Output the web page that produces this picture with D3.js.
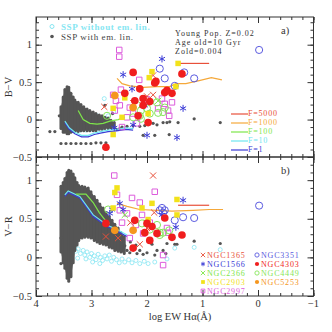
<!DOCTYPE html>
<html>
<head>
<meta charset="utf-8">
<script src="https://cdn.jsdelivr.net/npm/d3@7"></script>
<style>
  body { margin: 0; background: #fff; }
  text { font-family: "Liberation Serif", "DejaVu Serif", serif; }
</style>
</head>
<body>
<div id="graf"></div>
<script>
// Podaci: log EW(Halpha) i boja (B-V gore, V-R dolje)
const xTicks = [4, 3, 2, 1, 0, -1];
const yTicks = [-0.5, 0, 0.5, 1];

// SSP s emisijskim linijama - gusti oblak kao stupci [logEW, donja, gornja]
const sspStupciBV = [[3.55,-0.12,0.17],[3.51,-0.17,0.30],[3.48,-0.17,0.40],[3.44,-0.19,0.44],[3.41,-0.19,0.43],
  [3.37,-0.17,0.35],[3.33,-0.16,0.30],[3.30,-0.16,0.26],[3.24,-0.16,0.23],[3.19,-0.15,0.20],[3.14,-0.15,0.17],
  [3.08,-0.15,0.14],[3.03,-0.15,0.12],[2.97,-0.15,0.10],[2.92,-0.15,0.08],[2.86,-0.13,0.06],[2.81,-0.13,0.05],
  [2.76,-0.12,0.03],[2.70,-0.12,0.02],[2.65,-0.11,-0.01],[2.59,-0.11,-0.04]];
const sspStupciVR = [[3.55,0.07,0.92],[3.51,-0.07,0.97],[3.48,-0.14,1.02],[3.44,-0.27,1.10],[3.41,-0.31,1.13],
  [3.37,-0.25,1.12],[3.33,-0.07,1.08],[3.30,0.09,1.03],[3.26,0.16,0.97],[3.23,0.22,0.93],[3.17,0.25,0.92],
  [3.12,0.26,0.91],[3.06,0.26,0.90],[3.01,0.25,0.85],[2.95,0.22,0.79],[2.90,0.20,0.74],[2.85,0.18,0.69],
  [2.79,0.17,0.64],[2.74,0.16,0.58],[2.68,0.13,0.53],[2.63,0.12,0.48],[2.58,0.09,0.43],[2.52,0.08,0.38],
  [2.47,0.07,0.32],[2.41,0.05,0.27]];

// SSP s emisijskim linijama - rijetke tocke
const sspTockeBV = [[3.55,-0.32],[3.46,-0.32],[3.37,-0.32],[3.28,-0.32],[3.19,-0.32],[3.10,-0.32],[3.01,-0.32],
  [2.92,-0.31],[2.83,-0.31],[2.74,-0.31],[3.75,-0.16],[3.66,-0.16],[2.36,-0.09],[2.25,-0.08],[2.13,-0.09],
  [2.04,-0.08],[1.95,-0.05],[1.89,-0.05],[1.82,-0.07],[1.71,-0.04],[1.64,-0.04],[1.59,-0.03],[1.44,-0.04],
  [1.15,0.01],[0.68,-0.04],[2.07,-0.21],[1.86,-0.21],[1.60,-0.20],[2.76,0.19],[2.72,-0.05],[2.49,-0.12],
  [2.55,-0.13],[2.45,-0.10],[3.58,0.05],[2.62,0.08]];
const sspTockeVR = [[2.36,0.09],[2.31,0.06],[2.25,0.12],[2.18,0.05],[2.13,0.09],[2.07,0.04],[2.00,0.06],
  [1.91,0.17],[1.86,0.03],[1.82,0.09],[1.71,0.09],[1.66,0.05],[1.64,0.18],[1.50,0.17],[1.46,0.17],
  [1.15,0.21],[0.68,0.18],[3.55,0.25],[3.55,-0.08],[2.40,0.15],[2.30,0.20],[2.20,0.16]];

// SSP bez emisijskih linija
const sspBezBV = [[3.43,0.22],[3.43,0.10],[3.42,-0.02],[3.48,-0.10],[3.38,-0.12],[3.30,-0.13],[3.20,-0.14],
  [3.10,-0.14],[3.00,-0.13],[2.90,-0.12],[2.80,-0.11],[2.70,-0.10],[2.62,-0.09],[2.90,0.05],[2.77,0.28],
  [2.70,0.05],[2.60,0.10],[3.52,0.02]];
const sspBezVR = [[3.53,0.20],[3.50,0.16],[3.46,0.19],[3.42,0.14],[3.39,0.18],[3.35,0.12],[3.30,0.15],
  [3.28,0.08],[3.24,0.11],[3.20,0.05],[3.15,0.09],[3.12,0.03],[3.08,0.07],[3.03,0.00],[3.00,0.05],[2.95,0.02],
  [2.92,-0.03],[2.88,0.04],[2.84,0.00],[2.80,-0.04],[2.76,0.02],[2.72,-0.02],[2.68,0.03],[2.64,-0.05],
  [2.60,0.00],[2.55,-0.03],[2.50,-0.07],[2.45,-0.02],[2.40,-0.06],[2.33,-0.03],[2.27,-0.07],[2.20,-0.04],
  [2.13,-0.08],[2.05,-0.05],[1.98,-0.08],[1.86,-0.06],[1.64,-0.02],[1.50,0.12],[1.15,0.13],[0.68,0.10],
  [3.45,0.08],[3.35,0.04],[3.25,-0.01],[3.10,-0.02],[2.98,-0.06],[2.85,-0.08]];

// Modeli za razlicite F
const fOznake = ["F=5000", "F=1000", "F=100", "F=10", "F=1"];
const f5000BV = [[1.44,0.75],[0.88,0.75]];
const f1000BV = [[2.54,0.55],[2.45,0.48],[2.31,0.45],[2.07,0.43],[1.82,0.44],[1.59,0.44],[1.48,0.48],
  [1.30,0.48],[1.06,0.52],[0.84,0.56],[0.65,0.53]];
const f100BV = [[3.24,0.12],[3.15,0.00],[3.03,-0.05],[2.90,-0.06],[2.79,-0.05],[2.67,-0.02],[2.52,0.00],[2.40,0.03]];
const f10BV = [[3.48,-0.02],[3.40,-0.11],[3.30,-0.17],[3.18,-0.21],[3.06,-0.21],[2.95,-0.18],[2.84,-0.16],
  [2.70,-0.14],[2.55,-0.13],[2.38,-0.11],[2.25,-0.12]];
const f1BV = [[3.48,-0.04],[3.40,-0.13],[3.30,-0.19],[3.18,-0.23],[3.06,-0.23],[2.95,-0.20],[2.84,-0.18],
  [2.70,-0.16],[2.55,-0.15],[2.38,-0.13],[2.25,-0.14]];
const f5000VR = [[1.44,0.675],[0.88,0.675]];
const f1000VR = [[2.54,0.70],[2.36,0.66],[2.13,0.62],[1.82,0.61],[1.55,0.60],[1.17,0.61],[0.88,0.62],[0.63,0.62]];
const f100VR = [[3.28,0.82],[3.10,0.82],[2.97,0.71],[2.86,0.58],[2.74,0.47],[2.67,0.44]];
const f10VR = [[3.48,0.81],[3.42,0.86],[3.21,0.79],[2.97,0.55],[2.72,0.42],[2.54,0.36],[2.36,0.29]];
const f1VR = [[3.48,0.79],[3.42,0.84],[3.21,0.77],[2.97,0.53],[2.72,0.40],[2.54,0.34],[2.36,0.27]];

// Galaksije
const galaksije = ["NGC1365", "NGC1566", "NGC2366", "NGC2903", "NGC2997", "NGC3351", "NGC4303", "NGC4449", "NGC5253"];
const ngc1365BV = [[1.89,0.33],[2.00,0.31],[1.89,0.59],[2.25,0.22],[2.77,0.17]];
const ngc1566BV = [[1.73,0.81],[2.43,0.60],[2.27,0.41],[2.04,0.19],[2.25,-0.07],[1.35,0.15],[1.46,-0.24],[2.59,-0.11],[2.00,-0.21]];
const ngc2366BV = [[1.80,0.25],[2.10,0.20]];
const ngc2903BV = [[1.91,0.64],[1.96,0.56],[2.40,0.29],[1.98,0.08],[2.45,0.03],[1.44,0.75],[1.48,0.44],[2.61,-0.20],[2.61,0.15]];
const ngc2997BV = [[2.50,0.93],[2.50,0.84],[2.14,0.53],[2.47,0.40],[2.61,0.33],[2.56,0.25],[2.49,0.19],[2.58,0.12],
  [2.31,0.16],[2.25,0.08],[2.18,-0.05],[2.36,0.03],[1.73,0.28],[1.68,0.21],[1.80,0.15],[1.55,0.23],[1.62,0.12],
  [1.60,0.05],[2.45,-0.10],[2.00,0.27]];
const ngc3351BV = [[1.77,0.68],[1.68,0.55],[1.33,0.63],[1.15,0.55],[1.50,0.45],[-0.02,0.93]];
const ngc4303BV = [[2.25,0.63],[1.84,0.51],[2.13,0.41],[2.40,0.35],[2.22,0.25],[2.07,0.28],[1.95,0.24],[2.07,0.19],
  [2.16,0.05],[1.98,-0.04],[1.68,0.36],[1.55,0.35],[1.37,0.61],[1.86,0.49],[1.64,0.39],[2.74,-0.37]];
const ngc4449BV = [[2.11,0.12],[1.95,0.08],[1.80,0.09],[2.13,0.05],[2.25,0.03],[2.72,0.05],[2.11,0.01],[2.00,0.15],
  [1.82,0.23],[1.68,0.16],[1.71,0.10]];
const ngc5253BV = [[2.58,0.32],[2.25,0.16]];

const ngc1365VR = [[1.89,1.06],[1.87,0.58],[2.74,0.27],[2.52,0.25],[2.13,0.17],[2.30,0.45],[2.00,0.38]];
const ngc1566VR = [[1.35,0.74],[1.73,0.55],[1.48,0.39],[2.63,0.62],[2.43,0.62],[2.67,0.57],[2.49,0.70]];
const ngc2366VR = [[2.40,0.55],[2.00,0.45]];
const ngc2903VR = [[2.54,0.90],[2.58,0.84],[1.91,0.70],[2.61,0.64],[2.09,0.64],[1.46,0.75],[1.46,0.55],[1.98,0.49]];
const ngc2997VR = [[2.59,1.06],[1.86,0.85],[2.54,0.81],[2.27,0.77],[2.13,0.71],[2.49,0.61],[2.36,0.57],[2.09,0.55],
  [1.95,0.45],[1.64,0.38],[1.62,0.32],[2.07,0.31],[2.31,0.25],[1.71,0.03],[1.71,-0.10],[2.20,0.42],[2.45,0.45]];
const ngc3351VR = [[1.77,0.61],[1.71,0.58],[1.73,0.64],[1.68,0.61],[1.35,0.52],[1.50,0.48],[1.15,0.51],[-0.02,0.67]];
const ngc4303VR = [[2.74,0.44],[2.22,0.48],[2.00,0.44],[2.04,0.32],[1.95,0.22],[2.25,0.12],[1.68,0.51],[1.55,0.26],
  [1.37,0.29],[1.82,0.31],[1.91,0.40]];
const ngc4449VR = [[2.09,0.44],[1.82,0.42],[1.77,0.32],[1.71,0.32],[1.77,0.29],[2.70,0.62],[1.60,0.35],[1.95,0.36]];
const ngc5253VR = [[2.58,0.35],[2.25,0.35]];

const dimenzije = {
    sirina: 332,
    visina: 332,
    margine: { top: 17, right: 18.5, bottom: 36, left: 36 },
    sredina: 157,
};

const boje = {
    siva: "#555", cijan: "#86e6f2",
    f: ["#e8503a", "#f5a83a", "#7ee64a", "#6ee6f0", "#3a3ad6"],
    gal: ["#e8503a", "#3a3ad6", "#7ee64a", "#f2e21a", "#dc5cdc", "#5a5ae0", "#f01e1e", "#86e65a", "#f5961e"],
};
// tip simbola, ispunjen?, velicina
const simboli = [
    [d3.symbolTimes, false, 26], [d3.symbolAsterisk, false, 34], [d3.symbolTimes, false, 26],
    [d3.symbolSquare, true, 30], [d3.symbolSquare, false, 30], [d3.symbolCircle, false, 40],
    [d3.symbolCircle, true, 46], [d3.symbolCircle, false, 40], [d3.symbolCircle, true, 46],
];
const redoslijed = [4, 7, 5, 1, 0, 2, 3, 6, 8];
const legSlova = 8;

const svg = d3.select("#graf").append("svg")
    .attr("width", dimenzije.sirina)
    .attr("height", dimenzije.visina);

const xScale = d3.scaleLinear()
    .domain([4, -1])
    .range([dimenzije.margine.left, dimenzije.sirina - dimenzije.margine.right]);

function crtajPanel(cfg) {
    const y = d3.scaleLinear().domain(cfg.domena).range([cfg.dno, cfg.vrh]);
    const g = svg.append("g");

    // SSP bez linija
    g.selectAll(".bez").data(cfg.bez).join("circle")
        .attr("cx", d => xScale(d[0])).attr("cy", d => y(d[1])).attr("r", 2)
        .attr("fill", "none").attr("stroke", boje.cijan).attr("stroke-width", 0.8);

    // SSP s linijama - oblak
    g.append("path").datum(cfg.stupci)
        .attr("d", d3.area().x(d => xScale(d[0])).y0(d => y(d[1])).y1(d => y(d[2])))
        .attr("fill", boje.siva);
    g.selectAll(".stupac").data(cfg.stupci).join("line")
        .attr("x1", d => xScale(d[0])).attr("x2", d => xScale(d[0]))
        .attr("y1", d => y(d[1])).attr("y2", d => y(d[2]))
        .attr("stroke", boje.siva).attr("stroke-width", 3).attr("stroke-linecap", "round");
    g.selectAll(".tocka").data(cfg.tocke).join("circle")
        .attr("cx", d => xScale(d[0])).attr("cy", d => y(d[1])).attr("r", 1.6)
        .attr("fill", boje.siva);

    // Modeli
    const linija = d3.line().x(d => xScale(d[0])).y(d => y(d[1]));
    cfg.modeli.slice().reverse().forEach((m, i) => {
        g.append("path").datum(m)
            .attr("d", linija)
            .attr("fill", "none").attr("stroke", boje.f[4 - i]).attr("stroke-width", 1.2);
    });

    // Galaksije
    redoslijed.forEach(k => {
        const [tip, pun, vel] = simboli[k];
        g.selectAll(".g" + k).data(cfg.gal[k]).join("path")
            .attr("transform", d => `translate(${xScale(d[0])},${y(d[1])})`)
            .attr("d", d3.symbol().type(tip).size(vel))
            .attr("fill", pun ? boje.gal[k] : "none")
            .attr("stroke", boje.gal[k])
            .attr("stroke-width", pun ? 0 : 1);
    });

    // Okvir i osi
    const x0 = dimenzije.margine.left, x1 = dimenzije.sirina - dimenzije.margine.right;
    const osi = [
        [d3.axisBottom(xScale), `translate(0,${cfg.dno})`, xTicks, d3.range(4, -1.01, -0.2)],
        [d3.axisTop(xScale), `translate(0,${cfg.vrh})`, xTicks, d3.range(4, -1.01, -0.2)],
        [d3.axisLeft(y), `translate(${x0},0)`, yTicks, d3.range(-0.5, cfg.domena[1], 0.1)],
        [d3.axisRight(y), `translate(${x1},0)`, yTicks, d3.range(-0.5, cfg.domena[1], 0.1)],
    ];
    osi.forEach(([os, tr, glavni, sporedni]) => {
        g.append("g").attr("transform", tr)
            .call(os.tickValues(sporedni).tickSize(-3).tickFormat(""))
            .call(a => a.select(".domain").remove())
            .call(a => a.selectAll("line").attr("stroke", "#333"));
        g.append("g").attr("transform", tr)
            .call(os.tickValues(glavni).tickSize(-6).tickFormat(""))
            .call(a => a.select(".domain").remove())
            .call(a => a.selectAll("line").attr("stroke", "#333"));
    });
    g.append("rect")
        .attr("x", x0).attr("y", cfg.vrh).attr("width", x1 - x0).attr("height", cfg.dno - cfg.vrh)
        .attr("fill", "none").attr("stroke", "#333").attr("stroke-width", 1);

    // Oznake y osi
    g.selectAll(".ylab").data(yTicks).join("text")
        .attr("x", x0 - 4).attr("y", d => y(d) + 3.5)
        .attr("text-anchor", "end").attr("font-size", 10.5).attr("fill", "#333")
        .text(d => d3.format("")(d));
    g.append("text")
        .attr("transform", `translate(12,${(cfg.vrh + cfg.dno) / 2}) rotate(-90)`)
        .attr("text-anchor", "middle").attr("font-size", 10.5).attr("fill", "#333")
        .text(cfg.naslov);
    g.append("text").attr("x", 281).attr("y", cfg.vrh + 17)
        .attr("font-size", 10.5).attr("fill", "#333").text(cfg.oznaka);
    return { g, y };
}

crtajPanel({
    domena: [-0.5, 1.37], vrh: dimenzije.margine.top, dno: dimenzije.sredina,
    bez: sspBezBV, stupci: sspStupciBV, tocke: sspTockeBV,
    modeli: [f5000BV, f1000BV, f100BV, f10BV, f1BV],
    gal: [ngc1365BV, ngc1566BV, ngc2366BV, ngc2903BV, ngc2997BV, ngc3351BV, ngc4303BV, ngc4449BV, ngc5253BV],
    naslov: "B\u2212V", oznaka: "a)",
});
crtajPanel({
    domena: [-0.5, 1.3], vrh: dimenzije.sredina, dno: dimenzije.visina - dimenzije.margine.bottom,
    bez: sspBezVR, stupci: sspStupciVR, tocke: sspTockeVR,
    modeli: [f5000VR, f1000VR, f100VR, f10VR, f1VR],
    gal: [ngc1365VR, ngc1566VR, ngc2366VR, ngc2903VR, ngc2997VR, ngc3351VR, ngc4303VR, ngc4449VR, ngc5253VR],
    naslov: "V\u2212R", oznaka: "b)",
});

// Oznake x osi
svg.selectAll(".xlab").data(xTicks).join("text")
    .attr("x", d => xScale(d)).attr("y", 307)
    .attr("text-anchor", "middle").attr("font-size", 10.5).attr("fill", "#333")
    .text(d => d3.format("")(d));
svg.append("text").attr("x", 180).attr("y", 320)
    .attr("text-anchor", "middle").attr("font-size", 10.5).attr("fill", "#333")
    .text("log EW H\u03b1(\u00c5)");

// Legenda SSP
const legSSP = svg.append("g");
legSSP.append("circle").attr("cx", 52).attr("cy", 26.5).attr("r", 2).attr("fill", "none")
    .attr("stroke", boje.cijan).attr("stroke-width", 1);
legSSP.append("text").attr("x", 61).attr("y", 29.5).attr("font-size", 9)
    .attr("letter-spacing", 0.6)
    .attr("font-weight", "bold").attr("fill", boje.cijan).text("SSP without em. lin.");
legSSP.append("circle").attr("cx", 52).attr("cy", 36.5).attr("r", 1.8).attr("fill", boje.siva);
legSSP.append("text").attr("x", 61).attr("y", 39.5).attr("font-size", 9)
    .attr("letter-spacing", 0.6).attr("fill", "#444").text("SSP with em. lin.");

// Tekst o modelu
["Young Pop. Z=0.02", "Age old=10 Gyr", "Zold=0.004"].forEach((t, i) => {
    svg.append("text").attr("x", 175).attr("y", 36 + i * 9).attr("font-size", legSlova)
        .attr("letter-spacing", 1).attr("fill", "#333").text(t);
});

// Legenda F
fOznake.forEach((t, i) => {
    const yy = 113 + i * 9;
    svg.append("line").attr("x1", 231).attr("x2", 248).attr("y1", yy + 1).attr("y2", yy + 1)
        .attr("stroke", boje.f[i]).attr("stroke-width", 1.2);
    svg.append("text").attr("x", 248).attr("y", yy + 2.5).attr("font-size", legSlova)
        .attr("letter-spacing", 0.8).attr("fill", boje.f[i]).text(t);
});

// Legenda galaksija
galaksije.forEach((ime, k) => {
    const stupac = k < 5 ? 0 : 1;
    const red = k < 5 ? k : k - 5;
    const sx = stupac === 0 ? 203 : 257;
    const sy = 255 + red * 9;
    const [tip, pun] = simboli[k];
    svg.append("path")
        .attr("transform", `translate(${sx},${sy})`)
        .attr("d", d3.symbol().type(tip).size(14))
        .attr("fill", pun ? boje.gal[k] : "none")
        .attr("stroke", boje.gal[k]).attr("stroke-width", pun ? 0 : 0.9);
    svg.append("text").attr("x", sx + 4).attr("y", sy + 3).attr("font-size", legSlova)
        .attr("letter-spacing", 0.8).attr("fill", boje.gal[k]).text(ime);
});
</script>
</body>
</html>
